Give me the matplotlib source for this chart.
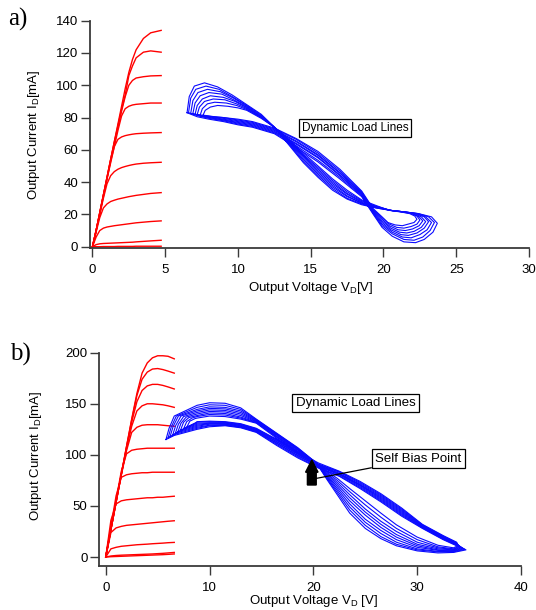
import matplotlib
matplotlib.use("Agg")
import matplotlib.pyplot as plt

plt.rcParams['font.family'] = ['Liberation Sans', 'DejaVu Sans']
plt.rcParams['mathtext.fontset'] = 'custom'
plt.rcParams['mathtext.rm'] = 'Liberation Sans'
plt.rcParams['mathtext.it'] = 'Liberation Sans:italic'

# ---------------- panel a) data ----------------
a_xticks = [0, 5, 10, 15, 20, 25, 30]
a_yticks = [0, 20, 40, 60, 80, 100, 120, 140]

# output characteristics (red), common drain voltage grid
a_red_v = [0, 0.25, 0.5, 0.75, 1.0, 1.25, 1.5, 1.75, 2.0, 2.25, 2.5, 2.75, 3.0, 3.5, 4.0, 4.72]
a_red_i = [
    [0, 10, 21, 32, 43, 54, 65, 76, 87, 98, 108, 116, 122, 129, 132.5, 134],
    [0, 10, 21, 32, 43, 54, 65, 75, 85, 94, 106, 112, 117, 120.5, 121.3, 120.5],
    [0, 10, 21, 32, 43, 54, 64, 74, 84, 93, 100, 103, 104.5, 105.3, 105.8, 106],
    [0, 10, 21, 32, 42, 52, 62, 72, 81, 85.5, 87, 87.8, 88.2, 88.6, 89, 89],
    [0, 10, 20, 31, 42, 53, 62, 66.5, 68, 68.8, 69.3, 69.7, 70, 70.3, 70.5, 70.7],
    [0, 10, 20, 30, 39, 44, 46.5, 48, 49, 49.7, 50.3, 50.8, 51.2, 51.7, 52, 52.3],
    [0, 9, 18, 24, 26.5, 28, 28.8, 29.5, 30, 30.5, 31, 31.4, 31.8, 32.4, 33, 33.5],
    [0, 6, 10, 11.5, 12.2, 12.6, 13, 13.3, 13.6, 13.9, 14.2, 14.5, 14.8, 15.2, 15.6, 16],
    [0, 1.3, 1.8, 2.0, 2.1, 2.2, 2.3, 2.4, 2.5, 2.6, 2.7, 2.8, 3.0, 3.3, 3.6, 4],
    [0, 0, 0, 0.1, 0.1, 0.1, 0.1, 0.2, 0.2, 0.2, 0.2, 0.2, 0.3, 0.3, 0.3, 0.3],
]

# dynamic load lines (blue), one closed trace per drive level
a_loop_v = [
    [6.5, 6.65, 7.0, 7.7, 8.6, 9.6, 10.6, 11.6, 12.5, 13.5, 14.5, 15.5, 16.5, 17.5, 18.5, 19.5, 20.5, 21.5, 22.4, 23.3,
     23.7, 23.4, 22.8, 22.2, 21.4, 20.6, 19.9, 19.3, 18.5, 17.0, 15.5, 14.0, 12.5, 11.0, 10.0, 9.0, 8.0, 7.2, 6.5],
    [6.6, 6.75, 7.1, 7.8, 8.7, 9.6, 10.6, 11.6, 12.5, 13.5, 14.5, 15.5, 16.5, 17.5, 18.5, 19.5, 20.5, 21.5, 22.4, 23.1,
     23.5, 23.2, 22.7, 22.1, 21.4, 20.6, 19.9, 19.3, 18.5, 17.0, 15.5, 14.0, 12.5, 11.0, 10.0, 9.0, 8.0, 7.3, 6.6],
    [6.75, 6.9, 7.25, 7.9, 8.8, 9.7, 10.6, 11.6, 12.5, 13.5, 14.5, 15.5, 16.5, 17.5, 18.5, 19.5, 20.5, 21.5, 22.3, 22.9,
     23.3, 23.0, 22.5, 21.9, 21.3, 20.6, 19.9, 19.3, 18.5, 17.0, 15.5, 14.0, 12.5, 11.0, 10.0, 9.0, 8.0, 7.4, 6.75],
    [6.9, 7.05, 7.4, 8.0, 8.9, 9.7, 10.6, 11.6, 12.5, 13.5, 14.5, 15.5, 16.5, 17.5, 18.5, 19.5, 20.5, 21.5, 22.2, 22.8,
     23.1, 22.8, 22.3, 21.7, 21.2, 20.5, 19.9, 19.3, 18.5, 17.0, 15.5, 14.0, 12.5, 11.0, 10.0, 9.0, 8.0, 7.5, 6.9],
    [7.05, 7.2, 7.55, 8.1, 9.0, 9.8, 10.6, 11.6, 12.5, 13.5, 14.5, 15.5, 16.5, 17.5, 18.5, 19.5, 20.5, 21.4, 22.1, 22.6,
     22.9, 22.6, 22.1, 21.6, 21.1, 20.5, 19.9, 19.3, 18.5, 17.0, 15.5, 14.0, 12.5, 11.0, 10.0, 9.0, 8.0, 7.6, 7.05],
    [7.2, 7.35, 7.7, 8.3, 9.1, 9.9, 10.6, 11.6, 12.5, 13.5, 14.5, 15.5, 16.5, 17.5, 18.5, 19.5, 20.5, 21.4, 22.0, 22.45,
     22.7, 22.45, 22.0, 21.5, 21.0, 20.4, 19.9, 19.3, 18.5, 17.0, 15.5, 14.0, 12.5, 11.0, 10.0, 9.0, 8.2, 7.7, 7.2],
    [7.4, 7.55, 7.9, 8.4, 9.2, 9.9, 10.6, 11.6, 12.5, 13.5, 14.5, 15.5, 16.5, 17.5, 18.5, 19.5, 20.5, 21.3, 21.9, 22.3,
     22.5, 22.3, 21.9, 21.4, 20.9, 20.4, 19.9, 19.3, 18.5, 17.0, 15.5, 14.0, 12.5, 11.0, 10.0, 9.0, 8.3, 7.8, 7.4],
    [7.6, 7.75, 8.1, 8.6, 9.3, 10.0, 10.6, 11.6, 12.5, 13.5, 14.5, 15.5, 16.5, 17.5, 18.5, 19.5, 20.4, 21.2, 21.8, 22.15,
     22.3, 22.1, 21.7, 21.3, 20.8, 20.3, 19.9, 19.3, 18.5, 17.0, 15.5, 14.0, 12.5, 11.0, 10.0, 9.0, 8.4, 8.0, 7.6],
]
a_loop_i = [
    [83, 93, 99.5, 101.5, 99, 94, 88, 82, 74, 63, 52, 43, 35, 29.5, 26, 24, 22.5, 21.5, 20.5, 18.5,
     14.5, 9, 4.5, 2.5, 3, 6.5, 12, 20, 31, 42, 52.5, 61.5, 70, 74, 75.5, 77.5, 79, 80.5, 83],
    [83, 92, 97.5, 99.5, 97.5, 93, 87.5, 81.5, 74, 63.5, 53, 44, 36, 30, 26.5, 24, 22.5, 21.5, 20.5, 18.5,
     15, 10, 6, 4, 4.5, 8, 13, 20.5, 31.5, 43, 53.5, 62.5, 70.5, 74.5, 76, 78, 79.5, 81, 83],
    [82.5, 90.5, 95.5, 97.5, 96, 92, 87, 81, 74, 64, 54, 45, 37, 31, 27, 24.5, 22.5, 21.5, 20.5, 18.5,
     15, 10.5, 7.5, 5.5, 6, 9, 14, 21, 32, 44, 55, 63.5, 71, 75, 76.5, 78.5, 80, 81, 82.5],
    [82.5, 89, 93.5, 95.5, 94.5, 91, 86.5, 80.5, 74, 64.5, 55, 46, 38, 31.5, 27, 24.5, 22.5, 21.5, 20.5, 18.5,
     15.5, 11.5, 8.5, 7, 7.5, 10.5, 15, 21.5, 32.5, 44.5, 55.5, 64, 71.5, 75.5, 77, 78.5, 80, 81, 82.5],
    [82, 87.5, 91.5, 93.5, 92.5, 90, 86, 80.5, 74, 65, 56, 47, 39, 32.5, 27.5, 24.5, 22.5, 21.5, 20.5, 18.5,
     15.5, 12, 9.5, 8.5, 9, 11.5, 16, 22, 33, 45.5, 56.5, 65, 72, 76, 77.5, 79, 80.5, 81, 82],
    [82, 86.5, 90, 91.5, 91, 88.5, 85.5, 80, 74, 65.5, 56.5, 48, 40, 33, 28, 25, 22.5, 21.5, 20.5, 18.5,
     16, 13, 11, 10, 10.5, 13, 17, 22.5, 33.5, 46, 57, 65.5, 72.5, 76.5, 78, 79.5, 80.5, 81, 82],
    [81.5, 85.5, 88.5, 89.5, 89, 87.5, 85, 80, 74, 66, 57, 49, 41, 34, 28.5, 25, 22.5, 21.5, 20.5, 19,
     16.5, 14, 12.5, 11.5, 12, 14, 18, 23, 34, 47, 58, 66.5, 73, 77, 78.5, 80, 80.5, 81, 81.5],
    [81.5, 84.5, 86.5, 87.5, 87, 86, 84.5, 79.5, 74, 66.5, 58, 50, 42, 35, 29, 25.5, 22.5, 21.5, 20.5, 19,
     17, 15, 14, 13, 13.5, 15, 18.5, 23.5, 34.5, 48, 59, 67, 73.5, 77.5, 79, 80, 80.5, 81, 81.5],
]

# ---------------- panel b) data ----------------
b_xticks = [0, 10, 20, 30, 40]
b_yticks = [0, 50, 100, 150, 200]

b_red_v = [0, 0.5, 1.0, 1.5, 2.0, 2.5, 3.0, 3.5, 4.0, 4.5, 5.0, 5.5, 6.0, 6.6]
b_red_i = [
    [0, 27, 54, 81, 108, 135, 160, 180, 190, 195, 197, 197, 196.5, 194],
    [0, 27, 54, 81, 108, 134, 158, 174, 181, 184, 184.5, 183.5, 182, 180],
    [0, 27, 54, 81, 107, 132, 152, 163, 167.5, 169, 169, 168, 166.5, 164.5],
    [0, 27, 54, 81, 106, 128, 143, 148, 150, 150, 149.5, 149, 148, 146.5],
    [0, 27, 54, 80, 104, 122, 127, 129, 129.5, 129.5, 129.5, 129, 128.5, 128],
    [0, 28, 56, 84, 101, 104.5, 105.5, 106, 106.5, 106.5, 106.5, 106.5, 106.5, 106.5],
    [0, 30, 60, 78, 80.5, 81.5, 82, 82.5, 82.5, 83, 83, 83, 83, 83],
    [0, 36, 52, 55, 56, 56.5, 57, 57.5, 58, 58, 58.5, 58.5, 59, 59.5],
    [0, 24, 28.5, 30, 31, 31.5, 32, 32.5, 33, 33.5, 34, 34.5, 35, 35.5],
    [0, 8, 9.5, 10.5, 11, 11.5, 12, 12.3, 12.6, 13, 13.3, 13.6, 14, 14.3],
    [0, 1, 1.5, 1.8, 2, 2.2, 2.4, 2.6, 2.8, 3, 3.3, 3.6, 4, 4.5],
    [0, 0.3, 0.5, 0.7, 0.9, 1.1, 1.3, 1.5, 1.7, 1.9, 2.1, 2.3, 2.6, 3],
]

# load-line traces: left tip, arc points near tip, right tip per loop
b_tip_v = [5.8, 6.0, 6.2, 6.45, 6.7, 6.95, 7.2, 7.5, 7.8]
b_near_tip_v = [6.1, 6.3, 6.5, 6.75, 7.0, 7.25, 7.5, 7.8, 8.1]
b_arc_v = [6.6, 6.8, 7.0, 7.25, 7.5, 7.75, 8.0, 8.3, 8.6]
b_right_v = [34.7, 34.6, 34.5, 34.4, 34.3, 34.2, 34.1, 34.0, 33.9]
b_out_v = [8.8, 10.0, 11.5, 13.0, 14.5, 16.5, 18.5, 20.3, 21.3, 22.3, 23.5, 25.0, 26.5, 28.0, 30.0, 32.0, 33.5]
b_back_v = [33.8, 32.5, 30.5, 28.5, 26.5, 24.5, 22.5, 20.5, 18.5, 16.5, 14.5, 13.0, 11.5, 10.0, 8.8]
b_loop_i = [
    [115, 126, 138, 148.5, 151, 150.5, 146, 135, 121, 107, 92, 76, 61, 43, 28, 18, 11, 6, 4, 4.5,
     7, 11, 17, 28, 40, 54, 67, 79, 87, 97, 109, 122, 126.5, 128.5, 127.5, 125, 119, 116.5, 115],
    [116.5, 127, 138, 146.5, 149, 148.5, 144.5, 134.5, 120.5, 106.5, 92, 77, 63, 46, 31, 20, 12.5, 7, 5, 5,
     7.5, 11.5, 17.5, 28.5, 41, 55, 68, 79.5, 87.5, 98, 110, 122.5, 127, 129, 128.5, 126, 120.5, 118, 116.5],
    [118, 128, 138, 144.5, 147, 146.5, 143, 134, 120, 106, 91.5, 78, 65, 49, 34, 23, 14.5, 8, 5.5, 5.5,
     8, 12, 18, 29, 42, 56, 69, 80.5, 88.5, 99, 111, 123, 127.5, 129.5, 129, 127, 122, 119.5, 118],
    [119.5, 129, 138, 143, 145.5, 145, 141.5, 133.5, 119.5, 105.5, 91.5, 79, 67, 52, 37, 26, 17, 9.5, 6.5, 6,
     8.5, 12.5, 18.5, 29.5, 43, 57, 70, 81, 89, 99.5, 111.5, 123.5, 128, 130, 130, 128, 123.5, 121, 119.5],
    [121, 130, 137.5, 141.5, 144, 143.5, 140, 133, 119, 105, 91, 80, 69, 55, 41, 29, 19.5, 11, 7, 6.5,
     9, 13, 19, 30, 44, 58, 70.5, 81.5, 89.5, 100.5, 112.5, 124, 128.5, 130.5, 130.5, 129, 125, 122.5, 121],
    [122.5, 131, 137, 140, 142.5, 142, 138.5, 132.5, 118, 104.5, 91, 81, 71, 58, 44, 32, 22, 12.5, 8, 7,
     9.5, 13, 19.5, 30.5, 45, 59, 71, 82, 90, 101, 113, 124.5, 129, 131, 131, 130, 126.5, 124, 122.5],
    [124, 132, 136.5, 138.5, 141, 140.5, 137, 132, 117.5, 103.5, 90.5, 82, 73, 61, 47, 35, 25, 14.5, 9, 7.5,
     10, 13.5, 20, 31, 46, 60, 72, 83, 90.5, 101.5, 114, 125, 129.5, 131.5, 131.5, 131, 128, 125.5, 124],
    [125.5, 132.5, 136, 137.5, 139.5, 139, 136, 131.5, 117, 103, 90.5, 83, 75, 64, 51, 39, 28, 17, 10, 8,
     10.5, 14, 20.5, 31.5, 47, 61, 73, 83.5, 91, 102.5, 114.5, 125.5, 130, 132, 132.5, 132, 129.5, 127, 125.5],
    [127, 133, 135.5, 136, 138, 137.5, 135, 131, 116, 102, 90, 84, 77, 67, 55, 43, 31.5, 19.5, 11.5, 9,
     11, 14.5, 21, 32, 48, 62, 74, 84, 92, 103, 115, 126, 130.5, 132.5, 133, 132.5, 131, 128.5, 127],
]

RED = '#ff0000'
BLUE = '#0a0aff'
AXIS_COLOR = '#3a3a3a'


def style_axes(ax, xlim, ylim, xticks, yticks):
    """ igor-like axes: only left and bottom spines, outward ticks """
    ax.set_xlim(xlim)
    ax.set_ylim(ylim)
    ax.spines['top'].set_visible(False)
    ax.spines['right'].set_visible(False)
    for side in ('left', 'bottom'):
        ax.spines[side].set_linewidth(1.3)
        ax.spines[side].set_color(AXIS_COLOR)
    ax.set_xticks(xticks)
    ax.set_yticks(yticks)
    ax.tick_params(direction='out', length=6.5, width=1.0, color=AXIS_COLOR, labelsize=9.5)
    ax.tick_params(axis='x', pad=5)
    ax.tick_params(axis='y', pad=2)


fig = plt.figure(figsize=(5.36, 6.10), dpi=100)

# ---------------- panel a) ----------------
ax_a = fig.add_axes([90 / 536, 1 - 248 / 610, (529 - 90) / 536, (248 - 20.7) / 610])
style_axes(ax_a, (-0.17, 30), (-0.8, 140), a_xticks, a_yticks)

for curve in a_red_i:
    ax_a.plot(a_red_v, curve, color=RED, lw=1.0, clip_on=False)
for loop_v, loop_i in zip(a_loop_v, a_loop_i):
    ax_a.plot(loop_v, loop_i, color=BLUE, lw=0.8)

ax_a.text(18.05, 73.7, 'Dynamic Load Lines', fontsize=8.5, ha='center', va='center',
          bbox=dict(boxstyle='square,pad=0.25', fc='white', ec='black', lw=0.9))

ax_a.set_xlabel(r'Output Voltage V$_\mathrm{D}$[V]', fontsize=9.5)
ax_a.xaxis.set_label_coords(0.503, -0.14)
ax_a.xaxis.label.set_va('top')
ax_a.set_ylabel(r'Output Current I$_\mathrm{D}$[mA]', fontsize=9.5)
ax_a.yaxis.set_label_coords(-0.11, 0.5)

# ---------------- panel b) ----------------
ax_b = fig.add_axes([99.3 / 536, 1 - 565.7 / 610, (521 - 99.3) / 536, (565.7 - 352.7) / 610])
style_axes(ax_b, (-0.62, 40), (-8.5, 200), b_xticks, b_yticks)

for curve in b_red_i:
    ax_b.plot(b_red_v, curve, color=RED, lw=1.0)
for k, loop_i in enumerate(b_loop_i):
    loop_v = ([b_tip_v[k], b_near_tip_v[k], b_arc_v[k]] + b_out_v + [b_right_v[k]] + b_back_v
              + [b_arc_v[k], b_near_tip_v[k], b_tip_v[k]])
    ax_b.plot(loop_v, loop_i, color=BLUE, lw=0.8)

# self bias point marker
ax_b.arrow(19.85, 70.5, 0, 12.5, width=0.85, head_width=1.2, head_length=12,
           color='black', zorder=5)

ax_b.text(24.07, 150.9, 'Dynamic Load Lines', fontsize=9.5, ha='center', va='center',
          bbox=dict(boxstyle='square,pad=0.25', fc='white', ec='black', lw=0.9))
ax_b.annotate('Self Bias Point', xy=(20.3, 77), xytext=(30.1, 96.2), fontsize=9.5,
              ha='center', va='center',
              bbox=dict(boxstyle='square,pad=0.25', fc='white', ec='black', lw=0.9),
              arrowprops=dict(arrowstyle='-', color='black', lw=0.9, shrinkA=0, shrinkB=0),
              zorder=6)

ax_b.set_xlabel(r'Output Voltage V$_\mathrm{D}$ [V]', fontsize=9.5)
ax_b.xaxis.set_label_coords(0.507, -0.128)
ax_b.xaxis.label.set_va('top')
ax_b.set_ylabel(r'Output Current I$_\mathrm{D}$[mA]', fontsize=9.5)
ax_b.yaxis.set_label_coords(-0.131, 0.515)

# panel letters
fig.text(8 / 536, 1 - 8 / 610, 'a)', family='Liberation Serif', fontsize=18, ha='left', va='top')
fig.text(10 / 536, 1 - 343 / 610, 'b)', family='Liberation Serif', fontsize=18, ha='left', va='top')

fig.savefig('out.png', dpi=100)
